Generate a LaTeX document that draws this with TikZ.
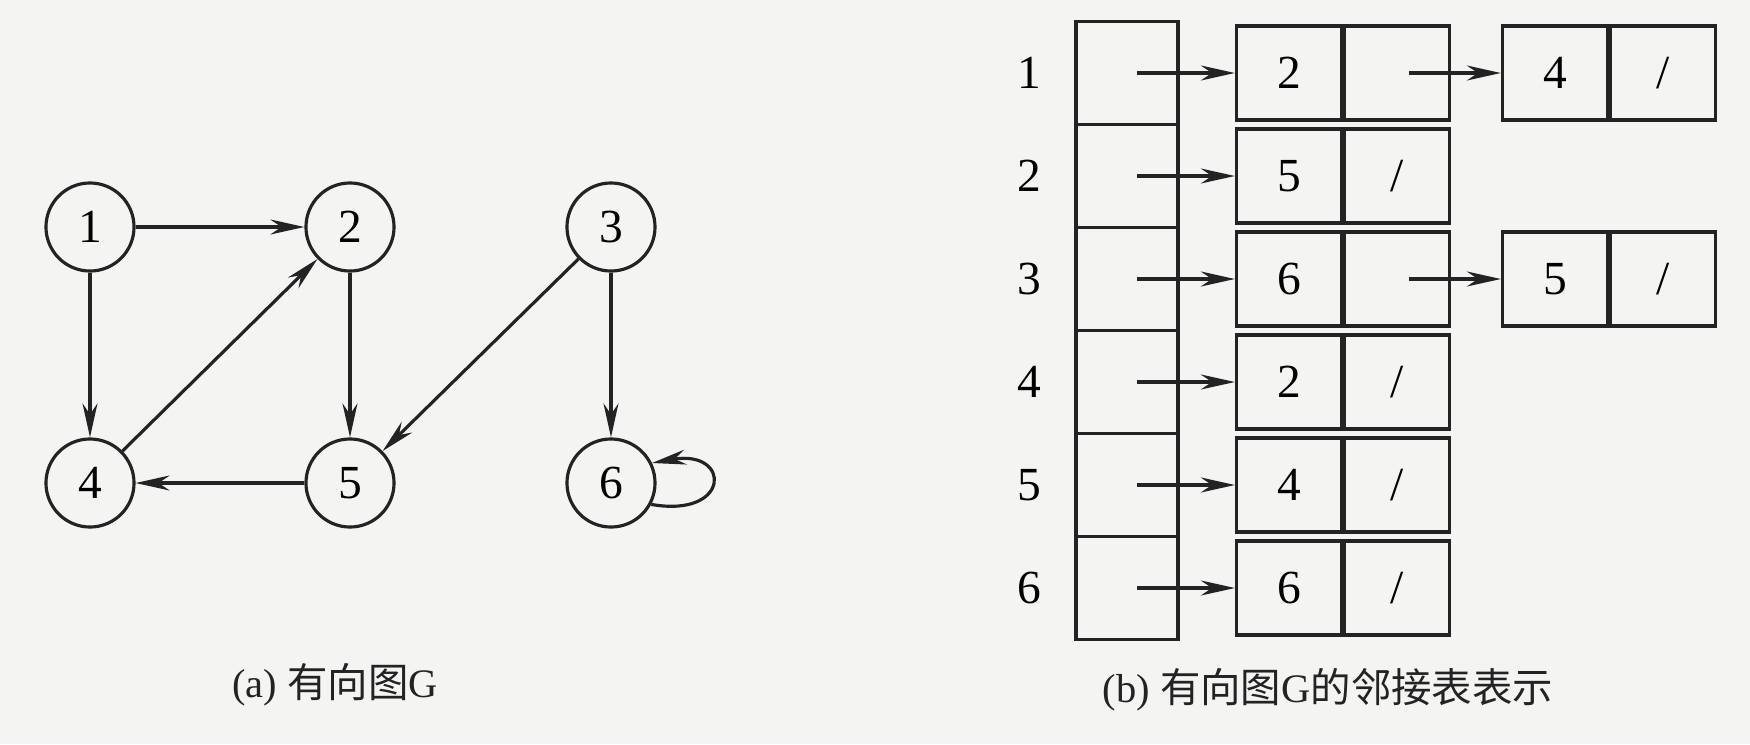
\documentclass[tikz,border=0pt]{standalone}
\usepackage{fontspec}
\setmainfont{Liberation Serif}
\newfontfamily\cjk{Noto Sans CJK SC}
\usetikzlibrary{arrows.meta,positioning}
\definecolor{paper}{RGB}{244,244,242}
\definecolor{ink}{RGB}{35,35,35}
\tikzstyle{vertex} = [circle, draw=ink, line width=0.9pt,
    minimum size=8.8mm, inner sep=0pt, font=\fontsize{13.5}{16}\selectfont]
\tikzstyle{head} = [rectangle, draw=ink, line width=0.9pt,
    minimum width=10.2mm, minimum height=10.3mm, inner sep=0pt]
\tikzstyle{cell} = [rectangle, draw=ink, line width=0.9pt,
    minimum width=10.5mm, minimum height=9.4mm, inner sep=0pt,
    font=\fontsize{13.5}{16}\selectfont]
\tikzset{rowlabel/.style={font=\fontsize{13.5}{16}\selectfont, left=6pt of #1}}
\tikzstyle{arr} = [-{Stealth[length=3.4mm,width=1.5mm]}, line width=0.9pt, draw=ink]
\tikzstyle{caption} = [font=\fontsize{11.5}{14}\selectfont, text=ink]

\begin{document}
\begin{tikzpicture}[x=0.01cm, y=0.01cm]
    \fill[paper] (0,0) rectangle (1750,744);
    \useasboundingbox (0,0) rectangle (1750,744);

    % (a) the graph
    \node (g1) [vertex] at (90,517) {1};
    \node (g2) [vertex] at (350,517) {2};
    \node (g3) [vertex] at (611,517) {3};
    \node (g4) [vertex] at (90,261) {4};
    \node (g5) [vertex] at (350,261) {5};
    \node (g6) [vertex] at (611,261) {6};

    \draw [arr] (g1) -- (g2);
    \draw [arr] (g1) -- (g4);
    \draw [arr] (g4) -- (g2);
    \draw [arr] (g2) -- (g5);
    \draw [arr] (g3) -- (g5);
    \draw [arr] (g5) -- (g4);
    \draw [arr] (g3) -- (g6);
    \draw [arr] (g6.-28) to[out=-10, in=10, looseness=5] (g6.26);

    \node (capa) [caption] at (335,59) {(a) {\cjk 有向图}G};

    % (b) head column
    \node (t1) [head] at (1127,671) {};
    \node (t2) [head] at (1127,568) {};
    \node (t3) [head] at (1127,465) {};
    \node (t4) [head] at (1127,362) {};
    \node (t5) [head] at (1127,259) {};
    \node (t6) [head] at (1127,156) {};

    \node (n1) [rowlabel=t1] {1};
    \node (n2) [rowlabel=t2] {2};
    \node (n3) [rowlabel=t3] {3};
    \node (n4) [rowlabel=t4] {4};
    \node (n5) [rowlabel=t5] {5};
    \node (n6) [rowlabel=t6] {6};

    % list nodes
    \node (d1) [cell] at (1289,671) {2};
    \node (q1) [cell, anchor=west] at (d1.east) {};
    \node (e1) [cell] at (1555,671) {4};
    \node (r1) [cell, anchor=west] at (e1.east) {/};
    \node (d2) [cell] at (1289,568) {5};
    \node (q2) [cell, anchor=west] at (d2.east) {/};
    \node (d3) [cell] at (1289,465) {6};
    \node (q3) [cell, anchor=west] at (d3.east) {};
    \node (e3) [cell] at (1555,465) {5};
    \node (r3) [cell, anchor=west] at (e3.east) {/};
    \node (d4) [cell] at (1289,362) {2};
    \node (q4) [cell, anchor=west] at (d4.east) {/};
    \node (d5) [cell] at (1289,259) {4};
    \node (q5) [cell, anchor=west] at (d5.east) {/};
    \node (d6) [cell] at (1289,156) {6};
    \node (q6) [cell, anchor=west] at (d6.east) {/};

    \draw [arr] ([xshift=1mm]t1.center) -- (d1);
    \draw [arr] ([xshift=1mm]t2.center) -- (d2);
    \draw [arr] ([xshift=1mm]t3.center) -- (d3);
    \draw [arr] ([xshift=1mm]t4.center) -- (d4);
    \draw [arr] ([xshift=1mm]t5.center) -- (d5);
    \draw [arr] ([xshift=1mm]t6.center) -- (d6);
    \draw [arr] ([xshift=1.2mm]q1.center) -- (e1);
    \draw [arr] ([xshift=1.2mm]q3.center) -- (e3);

    \node (capb) [caption] at (1328,54) {(b) {\cjk 有向图}G{\cjk 的邻接表表示}};
\end{tikzpicture}
\end{document}
